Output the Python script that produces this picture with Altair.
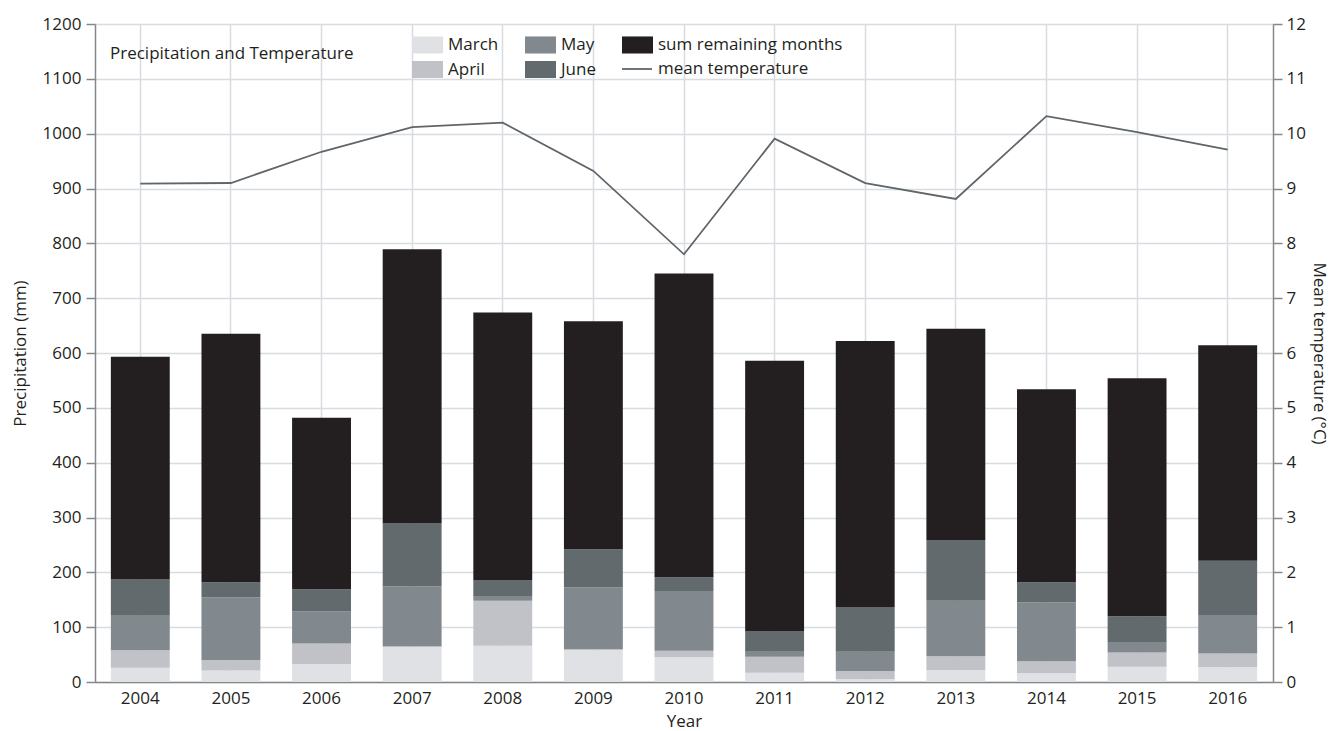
import altair as alt
import pandas as pd

years = [2004, 2005, 2006, 2007, 2008, 2009, 2010, 2011, 2012, 2013, 2014, 2015, 2016]
march = [26, 21, 33, 64, 66, 58, 45, 17, 5, 22, 16, 28, 27]
april = [32, 19, 37, 1, 82, 2, 12, 29, 15, 25, 22, 26, 25]
may = [63, 114, 59, 109, 9, 113, 109, 9, 35, 101, 107, 19, 70]
june = [66, 28, 40, 115, 29, 69, 25, 37, 82, 111, 37, 47, 99]
remaining = [406, 453, 313, 500, 488, 416, 554, 494, 485, 385, 352, 434, 393]
mean_temp = [9.09, 9.10, 9.67, 10.12, 10.20, 9.32, 7.80, 9.91, 9.10, 8.81, 10.32, 10.03, 9.71]

series_names = ["March", "April", "May", "June", "sum remaining months"]
series_colors = ["#dfe1e5", "#c0c2c8", "#81888e", "#626a6d", "#231f20"]
series_values = [march, april, may, june, remaining]

rows = []
for idx, (name, vals) in enumerate(zip(series_names, series_values)):
    for y, v in zip(years, vals):
        rows.append({"Year": str(y), "series": name, "order": idx, "value": v})
bars_df = pd.DataFrame(rows)

temp_df = pd.DataFrame({"Year": [str(y) for y in years], "temp": mean_temp,
                        "kind": ["mean temperature"] * len(years)})

FONT = "Open Sans"
TXT = "#231f20"
AX = "#85888b"
GRID = "#d8dbdf"

x_enc = alt.X(
    "Year:O",
    scale=alt.Scale(paddingInner=0.35, paddingOuter=0.175),
    axis=alt.Axis(
        title="Year", labelAngle=0, grid=True, gridColor=GRID, gridWidth=1.5,
        bandPosition=0.5, ticks=False, domainColor=AX, domainWidth=1.5,
        labelPadding=8, labelFontSize=17, labelColor=TXT, labelFont=FONT,
        titleFontSize=17, titleFontWeight="normal", titleColor=TXT, titleFont=FONT,
        titlePadding=7,
    ),
)

bars = alt.Chart(bars_df).mark_bar(strokeWidth=0).encode(
    x=x_enc,
    y=alt.Y(
        "sum(value):Q",
        stack="zero",
        scale=alt.Scale(domain=[0, 1200], nice=False),
        axis=alt.Axis(
            title="Precipitation (mm)", values=list(range(0, 1201, 100)), format="d",
            grid=True, gridColor=GRID, gridWidth=1.5,
            tickSize=9, tickColor=AX, tickWidth=1.5, domainColor=AX, domainWidth=1.5,
            labelPadding=5, labelFontSize=17, labelColor=TXT, labelFont=FONT,
            titleFontSize=17, titleFontWeight="normal", titleColor=TXT, titleFont=FONT,
            titlePadding=13,
        ),
    ),
    color=alt.Color(
        "series:N",
        scale=alt.Scale(domain=series_names, range=series_colors),
        legend=alt.Legend(
            orient="none", legendX=15, legendY=5, columns=3,
            values=series_names,
            symbolType="M-1,-0.55L1,-0.55L1,0.55L-1,0.55Z", symbolSize=961,
            symbolStrokeWidth=0, symbolOpacity=1,
            labelFontSize=17, labelColor=TXT, labelFont=FONT, labelOffset=5,
            labelLimit=0, titleLimit=0,
            columnPadding=26, rowPadding=-2, padding=0,
            title="Precipitation and Temperature", titleOrient="left",
            titleAnchor="middle", titleBaseline="middle",
            titleFontSize=17, titleFontWeight="normal", titleColor=TXT, titleFont=FONT,
            titlePadding=58,
        ),
    ),
    order=alt.Order("order:Q", sort="ascending"),
)

line = alt.Chart(temp_df).mark_line(strokeWidth=1.8).encode(
    x=alt.X("Year:O"),
    y=alt.Y(
        "temp:Q",
        scale=alt.Scale(domain=[0, 12], nice=False),
        axis=alt.Axis(
            title="Mean temperature (°C)", orient="right", values=list(range(0, 13)),
            grid=False, tickSize=9, tickColor=AX, tickWidth=1.5,
            domainColor=AX, domainWidth=1.5,
            labelPadding=4, labelFontSize=17, labelColor=TXT, labelFont=FONT,
            titleFontSize=17, titleFontWeight="normal", titleColor=TXT, titleFont=FONT,
            titleAngle=90, titlePadding=4,
        ),
    ),
    stroke=alt.Stroke(
        "kind:N",
        scale=alt.Scale(domain=["mean temperature"], range=["#5f6568"]),
        legend=alt.Legend(
            orient="none", legendX=526, legendY=29, title=None,
            symbolType="stroke", symbolSize=900, symbolStrokeWidth=1.8,
            labelFontSize=17, labelColor=TXT, labelFont=FONT, labelOffset=5,
            labelLimit=0, padding=0,
        ),
    ),
)

chart = (
    alt.layer(bars, line)
    .resolve_scale(y="independent", color="independent", stroke="independent")
    .properties(
        width=1178, height=658,
        autosize=alt.AutoSizeParams(type="none"),
        padding={"left": 95, "top": 24, "right": 61, "bottom": 49},
    )
    .configure_view(stroke=AX, strokeWidth=1.5)
    .configure(background="white", font=FONT)
)

chart.save("out.html", embed_options={"renderer": "svg", "actions": False})
